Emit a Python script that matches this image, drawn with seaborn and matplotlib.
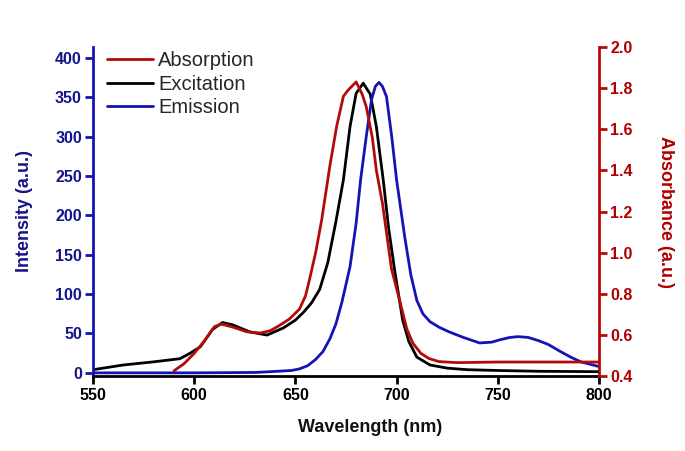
import numpy as np
import pandas as pd
import matplotlib
matplotlib.use("Agg")
import matplotlib.pyplot as plt
import seaborn as sns

# ---- data ----
abs_wl = [590, 595, 600, 605, 610, 613.5, 619, 626, 632.5, 637.5, 642, 647, 652, 655, 657, 660, 663,
          667, 670.4, 673.7, 676, 680, 683, 685, 688, 690, 693, 697.5, 701.7, 705, 708, 712, 716, 721, 730,
          750, 770, 790, 800]
abs_val = [0.425, 0.46, 0.51, 0.57, 0.64, 0.652, 0.638, 0.615, 0.609, 0.62, 0.645, 0.677, 0.725, 0.79, 0.87, 1.0, 1.16,
           1.42, 1.615, 1.76, 1.79, 1.83, 1.77, 1.71, 1.56, 1.40, 1.24, 0.92, 0.76, 0.63, 0.56, 0.51, 0.485, 0.47, 0.465,
           0.468, 0.468, 0.468, 0.468]

exc_wl = [550, 565, 580, 593, 598, 603, 609, 614, 619, 627.5, 636, 644, 650, 654, 658, 662, 666, 670,
          673.7, 677, 680, 683.5, 687, 690, 693.4, 696, 699, 703, 706, 710, 716.5, 725, 735, 750, 770, 800]
exc_val = [4, 10, 14, 18, 25, 33, 55, 64, 61, 52, 48, 57, 67, 77, 89, 106, 140, 192,
           245, 313, 355, 368, 354, 313, 245, 185, 131, 67, 40, 20, 10, 6, 4, 3, 2, 1.5]

emi_wl = [550, 600, 630, 639, 648, 652, 656, 660, 663.6, 667, 670, 673, 677, 680, 682.2, 685, 687.6, 689.5, 691.3,
          693, 695, 697.6, 700, 704, 707, 710, 713, 716.5, 721, 726, 733, 741, 747, 751, 756, 760, 765, 770, 775, 781, 786, 791, 800]
emi_val = [0, 0, 0.5, 1.7, 3, 5, 9, 17, 27, 43, 62, 90, 135, 190, 245, 300, 347, 364, 369,
           364, 351, 300, 245, 173, 125, 92, 75, 65, 58, 52, 45, 38, 39, 42, 45, 46, 45, 41, 36, 27, 20, 14, 8]

x_ticks = [550, 600, 650, 700, 750, 800]
left_ticks = [0, 50, 100, 150, 200, 250, 300, 350, 400]
right_ticks = [0.4, 0.6, 0.8, 1.0, 1.2, 1.4, 1.6, 1.8, 2.0]

RED = "#b50a0a"
BLUE = "#1414b4"
BLUE_TXT = "#14148c"
RED_TXT = "#b00000"

sns.set_style("ticks")
plt.rcParams["font.family"] = ["Liberation Sans", "DejaVu Sans"]

fig = plt.figure(figsize=(6.85, 4.51), dpi=100)
ax = fig.add_axes([93 / 685, 1 - 376 / 451, (599 - 93) / 685, (376 - 47) / 451])
ax2 = ax.twinx()

df_exc = pd.DataFrame({"wl": exc_wl, "val": exc_val})
df_emi = pd.DataFrame({"wl": emi_wl, "val": emi_val})
df_abs = pd.DataFrame({"wl": abs_wl, "val": abs_val})

sns.lineplot(data=df_exc, x="wl", y="val", ax=ax, color="black", lw=2, label="Excitation", legend=False)
sns.lineplot(data=df_emi, x="wl", y="val", ax=ax, color=BLUE, lw=2, label="Emission", legend=False)
sns.lineplot(data=df_abs, x="wl", y="val", ax=ax2, color=RED, lw=2, label="Absorption", legend=False)

ax.set_xlim(550, 800)
ax.set_ylim(-4, 414)
ax2.set_ylim(0.4, 2.0)

ax.set_xticks(x_ticks)
ax.set_yticks(left_ticks)
ax2.set_yticks(right_ticks)
ax2.set_yticklabels([f"{v:.1f}" for v in right_ticks])

for a in (ax, ax2):
    a.spines["top"].set_visible(False)
    for s in a.spines.values():
        s.set_linewidth(2)
ax.spines["right"].set_visible(False)
ax.spines["left"].set_color(BLUE)
ax.spines["bottom"].set_color("black")
ax2.spines["left"].set_visible(False)
ax2.spines["bottom"].set_visible(False)
ax2.spines["right"].set_color(RED)

ax.tick_params(axis="x", direction="out", length=6, width=2, colors="black", labelsize=11.5, pad=3)
ax.tick_params(axis="y", direction="out", length=6, width=2, color=BLUE, labelcolor=BLUE_TXT, labelsize=11.5, pad=2)
ax2.tick_params(axis="y", direction="out", length=6, width=2, color=RED, labelcolor=RED_TXT, labelsize=11.5, pad=2)
for lab in ax.get_xticklabels() + ax.get_yticklabels() + ax2.get_yticklabels():
    lab.set_fontweight("bold")

ax.set_xlabel("Wavelength (nm)", fontsize=13, fontweight="bold", color="#111111")
ax.xaxis.set_label_coords((370 - 93) / 506, -0.13)
ax.set_ylabel("Intensity (a.u.)", fontsize=13, fontweight="bold", color=BLUE_TXT, labelpad=16)
ax2.set_ylabel("Absorbance (a.u.)", fontsize=13, fontweight="bold", color=RED_TXT, rotation=270, labelpad=30)

h1, l1 = ax.get_legend_handles_labels()
h2, l2 = ax2.get_legend_handles_labels()
handles = h2 + h1
labels = l2 + l1
leg = ax2.legend(handles, labels, loc="upper left", bbox_to_anchor=(-0.008, 1.042), frameon=False,
                 fontsize=14.5, handlelength=2.3, handletextpad=0.25, labelspacing=0.22, borderaxespad=0.5)

fig.savefig("out.png", dpi=100)
